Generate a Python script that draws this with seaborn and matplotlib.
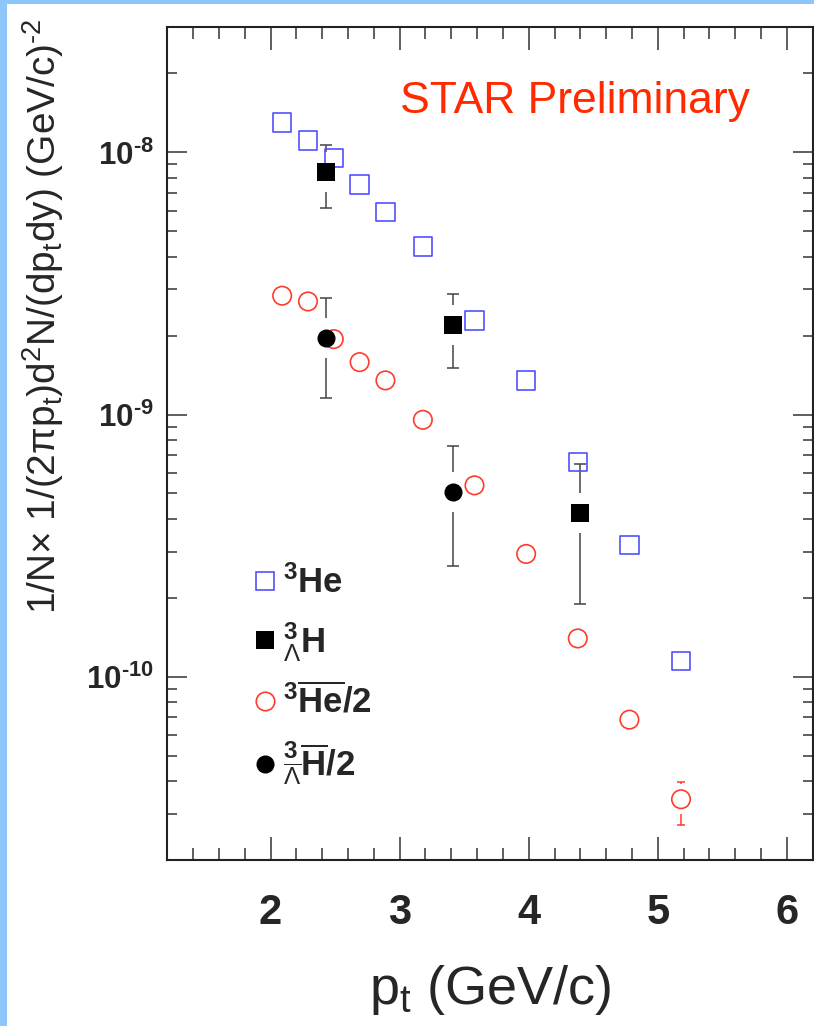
import numpy as np
import matplotlib
matplotlib.use('Agg')
import matplotlib.pyplot as plt
from matplotlib.lines import Line2D
from matplotlib.patches import Rectangle
from matplotlib.ticker import LogLocator, MultipleLocator, NullFormatter
import seaborn as sns

## 3He and anti-3He/2 spectra, same pt bins
pt_he = [2.09, 2.29, 2.49, 2.69, 2.89, 3.18, 3.58, 3.98, 4.38, 4.78, 5.18]
he3 = [1.30e-8, 1.11e-8, 9.5e-9, 7.55e-9, 5.92e-9, 4.37e-9,
       2.28e-9, 1.35e-9, 6.6e-10, 3.18e-10, 1.15e-10]
antihe3_half = [2.84e-9, 2.70e-9, 1.94e-9, 1.585e-9, 1.35e-9, 9.55e-10,
                5.37e-10, 2.94e-10, 1.40e-10, 6.86e-11, 3.41e-11]

## only the last anti-3He point has a visible error bar
antihe3_err_pt = [5.18]
antihe3_err_val = [3.41e-11]
antihe3_err_lo = [2.72e-11]
antihe3_err_hi = [3.96e-11]

## hypertriton and anti-hypertriton/2
pt_h3l = [2.43, 3.41, 4.40]
h3l = [8.43e-9, 2.20e-9, 4.22e-10]
h3l_lo = [6.15e-9, 1.51e-9, 1.89e-10]
h3l_hi = [1.066e-8, 2.88e-9, 6.48e-10]

pt_antih3l = [2.43, 3.41]
antih3l_half = [1.96e-9, 5.08e-10]
antih3l_lo = [1.16e-9, 2.65e-10]
antih3l_hi = [2.78e-9, 7.58e-10]

x_ticks = [2, 3, 4, 5, 6]
x_ticklabels = ['2', '3', '4', '5', '6']
y_ticks = [1e-10, 1e-9, 1e-8]
y_ticklabels = [r'$\mathbf{10^{‐10}}$', r'$\mathbf{10^{‐9}}$', r'$\mathbf{10^{‐8}}$']

legend_labels = [r'$^{\mathbf{3}}\mathbf{He}$',
                 r'${}^{\mathbf{3}}_{\Lambda}\mathbf{H}$',
                 r'$^{\mathbf{3}}\overline{\mathbf{He}}\mathbf{/2}$',
                 r'${}^{\mathbf{3}}_{\overline{\Lambda}}\overline{\mathbf{H}}\mathbf{/2}$']

BLUE = '#5050ff'
RED = '#ff3b2b'
ERR = '#444444'

sns.set_style('ticks')
plt.rcParams['font.family'] = ['Liberation Sans', 'DejaVu Sans']
plt.rcParams['mathtext.fontset'] = 'custom'
plt.rcParams['mathtext.rm'] = 'Liberation Sans'
plt.rcParams['mathtext.sf'] = 'Liberation Sans'
plt.rcParams['mathtext.it'] = 'Liberation Sans:italic'
plt.rcParams['mathtext.bf'] = 'Liberation Sans:bold'

fig = plt.figure(figsize=(8.14, 10.26), dpi=100)
fig.patch.set_facecolor('white')
## light blue slide border
fig.add_artist(Rectangle((0, 0), 7 / 814, 1, transform=fig.transFigure,
                         color='#8dc6fb', lw=0, zorder=0))
fig.add_artist(Rectangle((0, 1 - 4 / 1026), 1, 4 / 1026, transform=fig.transFigure,
                         color='#8dc6fb', lw=0, zorder=0))

ax = fig.add_axes([0.2055, 0.1618, 0.7929, 0.8116])

## error bars (drawn first, then masked around the markers)
ax.errorbar(pt_h3l, h3l,
            yerr=[np.array(h3l) - np.array(h3l_lo), np.array(h3l_hi) - np.array(h3l)],
            fmt='none', ecolor=ERR, elinewidth=1.1, capsize=4, capthick=1.1, zorder=2)
ax.errorbar(pt_antih3l, antih3l_half,
            yerr=[np.array(antih3l_half) - np.array(antih3l_lo),
                  np.array(antih3l_hi) - np.array(antih3l_half)],
            fmt='none', ecolor=ERR, elinewidth=1.1, capsize=4, capthick=1.1, zorder=2)
ax.errorbar(antihe3_err_pt, antihe3_err_val,
            yerr=[np.array(antihe3_err_val) - np.array(antihe3_err_lo),
                  np.array(antihe3_err_hi) - np.array(antihe3_err_val)],
            fmt='none', ecolor=RED, elinewidth=1.1, capsize=3, capthick=1.1, zorder=2)

## white gaps round the points (ROOT style)
ax.scatter(pt_h3l, h3l, marker='s', s=29 ** 2, c='white', linewidths=0, zorder=2.5)
ax.scatter(pt_antih3l, antih3l_half, marker='s', s=29 ** 2, c='white', linewidths=0, zorder=2.5)
ax.scatter(antihe3_err_pt, antihe3_err_val, marker='s', s=21 ** 2, c='white', linewidths=0, zorder=2.5)

## markers
sns.scatterplot(x=pt_he, y=he3, marker='s', s=13.3 ** 2, ax=ax, zorder=3)
ax.collections[-1].set_facecolor('none')
ax.collections[-1].set_edgecolor(BLUE)
ax.collections[-1].set_linewidth(1.2)

sns.scatterplot(x=pt_he, y=antihe3_half, marker='o', s=13.3 ** 2, ax=ax, zorder=3)
ax.collections[-1].set_facecolor('none')
ax.collections[-1].set_edgecolor(RED)
ax.collections[-1].set_linewidth(1.2)

sns.scatterplot(x=pt_h3l, y=h3l, marker='s', s=13 ** 2, color='black',
                linewidth=0, ax=ax, zorder=4)
sns.scatterplot(x=pt_antih3l, y=antih3l_half, marker='o', s=13 ** 2, color='black',
                linewidth=0, ax=ax, zorder=4)

## axes
ax.set_yscale('log')
ax.set_xlim(1.2, 6.2)
ax.set_ylim(2e-11, 3e-8)

ax.set_xticks(x_ticks, labels=x_ticklabels, fontweight='bold')
ax.xaxis.set_minor_locator(MultipleLocator(0.2))
ax.set_yticks(y_ticks, labels=y_ticklabels)
ax.yaxis.set_minor_locator(LogLocator(base=10, subs=np.arange(2, 10)))
ax.yaxis.set_minor_formatter(NullFormatter())

ax.tick_params(which='both', direction='in', top=True, right=True, color='#333333')
ax.tick_params(axis='x', which='major', length=16.5, width=1.1, pad=24, labelsize=30)
ax.tick_params(axis='x', which='minor', length=8.6, width=1.1)
ax.tick_params(axis='y', which='major', length=14.4, width=1.1, pad=10, labelsize=22.5)
ax.tick_params(axis='y', which='minor', length=7.2, width=1.1)

for sp in ax.spines.values():
    sp.set_linewidth(1.5)
    sp.set_color('#222222')

ax.set_xlabel(r'p$_\mathrm{t}$ (GeV/c)', fontsize=39, labelpad=21.5)
ax.set_ylabel(r'1/N× 1/(2πp$_\mathrm{t}$)d$^\mathrm{2}$N/(dp$_\mathrm{t}$dy) (GeV/c)$^\mathrm{‐2}$',
              fontsize=27.9, loc='top')
ax.yaxis.set_label_coords(-0.157, 1.011)

ax.text(0.3606, 0.897, 'STAR Preliminary', color='#ff2a00', fontsize=32,
        transform=ax.transAxes, ha='left', va='baseline')

## legend
handles = [
    Line2D([], [], ls='none', marker='s', ms=13.3, mfc='none', mec=BLUE, mew=1.2),
    Line2D([], [], ls='none', marker='s', ms=13, mfc='black', mec='black', mew=0),
    Line2D([], [], ls='none', marker='o', ms=13.3, mfc='none', mec=RED, mew=1.2),
    Line2D([], [], ls='none', marker='o', ms=13, mfc='black', mec='black', mew=0),
]
ax.legend(handles, legend_labels, loc='upper left', bbox_to_anchor=(0.135, 0.354),
          frameon=False, fontsize=25, handlelength=0.6, handletextpad=0.22,
          borderpad=0, borderaxespad=0, labelspacing=0.57)

fig.savefig('out.png', dpi=100)
